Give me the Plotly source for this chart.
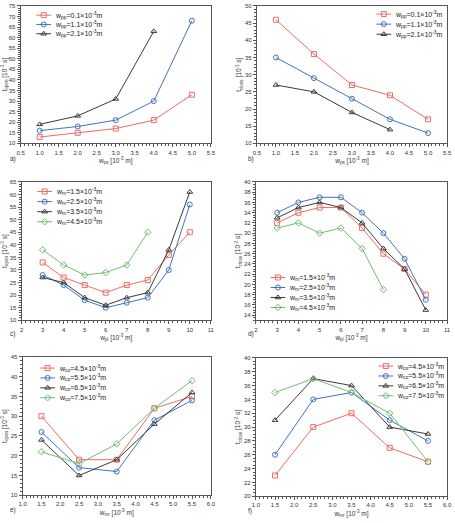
import plotly.graph_objects as go

W, H = 455, 523

# ---------------- data ----------------
a_x = [1.0, 2.0, 3.0, 4.0, 5.0]
a_red = [13, 15, 17, 21, 33]
a_blue = [16, 18, 21, 30, 68]
a_black = [19, 23, 31, 63]
a_names = ["w<sub>pp</sub>=0.1×10<sup>-3</sup>m", "w<sub>pp</sub>=1.1×10<sup>-3</sup>m", "w<sub>pp</sub>=2.1×10<sup>-3</sup>m"]

b_x = [1.0, 2.0, 3.0, 4.0, 5.0]
b_red = [46, 36, 27, 24, 17]
b_blue = [35, 29, 23, 17, 13]
b_black = [27, 25, 19, 14]

c_x = [3, 4, 5, 6, 7, 8, 9, 10]
c_red = [33, 27, 24, 21, 24, 26, 36, 45]
c_blue = [28, 24, 18, 15, 17, 19, 30, 56]
c_black = [27, 25, 19, 16, 19, 21, 38, 61]
c_green = [38, 32, 28, 29, 32, 45]
cd_names = ["w<sub>m</sub>=1.5×10<sup>-3</sup>m", "w<sub>m</sub>=2.5×10<sup>-3</sup>m",
            "w<sub>m</sub>=3.5×10<sup>-3</sup>m", "w<sub>m</sub>=4.5×10<sup>-3</sup>m"]

d_x = [3, 4, 5, 6, 7, 8, 9, 10]
d_red = [32, 34, 35, 35, 31, 26, 23, 18]
d_blue = [34, 36, 37, 37, 34, 30, 25, 17]
d_black = [33, 35, 36, 35, 32, 27, 23, 15]
d_green = [31, 32, 30, 31, 27, 19]

e_x = [1.5, 2.5, 3.5, 4.5, 5.5]
e_red = [30, 19, 19, 32, 35]
e_blue = [26, 17, 16, 29, 34]
e_black = [24, 15, 19, 28, 36]
e_green = [21, 18, 23, 32, 39]
ef_names = ["w<sub>co</sub>=4.5×10<sup>-3</sup>m", "w<sub>co</sub>=5.5×10<sup>-3</sup>m",
            "w<sub>co</sub>=6.5×10<sup>-3</sup>m", "w<sub>co</sub>=7.5×10<sup>-3</sup>m"]

f_x = [1.5, 2.5, 3.5, 4.5, 5.5]
f_red = [23, 30, 32, 27, 25]
f_blue = [26, 34, 35, 31, 28]
f_black = [31, 37, 36, 30, 29]
f_green = [35, 37, 35, 32, 25]

# ---------------- style ----------------
RED, BLUE, BLACK, GREEN = "#ef6b66", "#3f74c2", "#3a3a3a", "#72bd72"
SYM = ["square-open", "circle-open", "triangle-up-open", "diamond-open"]
COLS = [RED, BLUE, BLACK, GREEN]
AX = "#555555"
FONT = "Arial, Liberation Sans, sans-serif"

# panel geometry in pixels: (left, right, top, bottom)
panels = [
    (17, 211, 3, 142),
    (258, 452, 3, 142),
    (18, 211, 181, 321),
    (257, 452, 181, 321),
    (19, 211, 358, 498),
    (257, 452, 359, 499),
]

fig = go.Figure()

series = [
    (a_x, [a_red, a_blue, a_black]),
    (b_x, [b_red, b_blue, b_black]),
    (c_x, [c_red, c_blue, c_black, c_green]),
    (d_x, [d_red, d_blue, d_black, d_green]),
    (e_x, [e_red, e_blue, e_black, e_green]),
    (f_x, [f_red, f_blue, f_black, f_green]),
]

for i, (xs, ys_list) in enumerate(series):
    n = "" if i == 0 else str(i + 1)
    for j, ys in enumerate(ys_list):
        fig.add_trace(go.Scatter(
            x=xs[:len(ys)], y=ys, mode="lines+markers",
            line=dict(color=COLS[j], width=1),
            marker=dict(symbol=SYM[j], size=5, color=COLS[j], line=dict(width=1, color=COLS[j])),
            xaxis="x" + n, yaxis="y" + n, showlegend=False, hoverinfo="skip"))

xranges = [[0.5, 5.5], [0.5, 5.5], [2, 11], [2, 11], [1.0, 6.0], [1.0, 6.0]]
yranges = [[10, 75], [10, 50], [10, 65], [13, 40], [10, 45], [20, 40]]
xdt = [0.5, 0.5, 1, 1, 0.5, 0.5]
ydt = [5, 5, 5, 2, 5, 2]
xfmt = [".1f", ".1f", ".0f", ".0f", ".1f", ".1f"]
xtitles = ["w<sub>ps</sub> [10<sup>-3</sup> m]", "w<sub>ps</sub> [10<sup>-3</sup> m]",
           "w<sub>pl</sub> [10<sup>-3</sup> m]", "w<sub>pl</sub> [10<sup>-3</sup> m]",
           "w<sub>mr</sub> [10<sup>-3</sup> m]", "w<sub>mr</sub> [10<sup>-3</sup> m]"]
ytitles = ["t<sub>open</sub> [10<sup>-3</sup> s]", "t<sub>close</sub> [10<sup>-3</sup> s]"] * 3
ytick0 = [10, 10, 10, 14, 10, 20]

layout = dict(width=W, height=H, margin=dict(l=0, r=0, t=0, b=0),
              paper_bgcolor="white", plot_bgcolor="rgba(0,0,0,0)",
              font=dict(family=FONT, size=6, color="#333"))

for i, (l, r, t, b) in enumerate(panels):
    n = "" if i == 0 else str(i + 1)
    common = dict(showline=True, linecolor=AX, linewidth=1, mirror=True, ticks="outside",
                  ticklen=3, tickwidth=0.8, tickcolor=AX, showgrid=False, zeroline=False,
                  tickfont=dict(size=6, color="#333"),
                  minor=dict(ticks="outside", ticklen=1.5, tickwidth=0.6, tickcolor=AX))
    layout["xaxis" + n] = dict(common, domain=[l / W, r / W], range=xranges[i], anchor="y" + n,
                               dtick=xdt[i], tick0=0, tickformat=xfmt[i],
                               title=dict(text=xtitles[i], font=dict(size=6.5), standoff=3))
    layout["yaxis" + n] = dict(common, domain=[1 - b / H, 1 - t / H], range=yranges[i], anchor="x" + n,
                               dtick=ydt[i], tick0=ytick0[i],
                               title=dict(text=ytitles[i], font=dict(size=6.5), standoff=2))

# overlay axis in pixel coordinates for hand-made legends
layout["xaxis7"] = dict(domain=[0, 1], range=[0, W], visible=False, anchor="y7", fixedrange=True)
layout["yaxis7"] = dict(domain=[0, 1], range=[H, 0], visible=False, anchor="x7", fixedrange=True)

# legend layout: (line x0, y of first entry, spacing)
legends = [
    (33, 12.3, 9.4, a_names),
    (380, 11.2, 10.2, a_names),
    (34, 190.7, 10.2, cd_names),
    (272, 277.7, 10.1, cd_names),
    (37, 369.3, 10.0, ef_names),
    (382, 367.3, 10.0, ef_names),
]
annotations = []
for (x0, y0, dy, names) in legends:
    for j, name in enumerate(names):
        y = y0 + j * dy
        fig.add_trace(go.Scatter(x=[x0, x0 + 15], y=[y, y], mode="lines",
                                 line=dict(color=COLS[j], width=1), xaxis="x7", yaxis="y7",
                                 showlegend=False, hoverinfo="skip"))
        fig.add_trace(go.Scatter(x=[x0 + 7.5], y=[y], mode="markers",
                                 marker=dict(symbol=SYM[j], size=5, color=COLS[j],
                                             line=dict(width=1, color=COLS[j])),
                                 xaxis="x7", yaxis="y7", showlegend=False, hoverinfo="skip"))
        annotations.append(dict(x=(x0 + 17) / W, y=1 - y / H, xref="paper", yref="paper",
                                text=name, showarrow=False, xanchor="left", yanchor="middle",
                                font=dict(size=7, color="#222")))

for lab, (px, py) in zip(["a)", "b)", "c)", "d)", "e)", "f)"],
                         [(4, 158), (247, 158), (4, 335), (247, 335), (4, 513), (247, 514)]):
    annotations.append(dict(x=px / W, y=1 - py / H, xref="paper", yref="paper", text=lab,
                            showarrow=False, xanchor="left", yanchor="middle",
                            font=dict(size=6.5, color="#333")))

layout["annotations"] = annotations
fig.update_layout(**layout)
fig.write_html("out.html")
